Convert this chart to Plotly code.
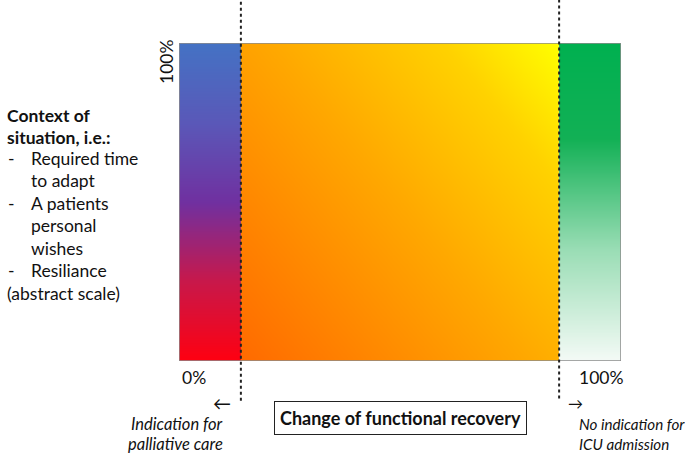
import numpy as np
import plotly.graph_objects as go

# ---- data ----
section_names = ["Indication for palliative care", "Uncertain", "No indication for ICU admission"]
section_edges = [0, 14, 86, 100]          # % of functional recovery
axis_tick_labels = ["0%", "100%"]
y_label = "100%"
context_title = ["Context of", "situation, i.e.:"]
context_items = [["Required time", "to adapt"], ["A patients", "personal", "wishes"], ["Resiliance"]]
context_footer = "(abstract scale)"
x_title = "Change of functional recovery"

FONT = "Lato, Carlito, 'Open Sans', sans-serif"
FS = 17.5

fig = go.Figure()

n = 120
ys = (np.arange(n) + 0.5) * 100 / n   # cell centres so edges are 0 and 100


def centres(a, b, m):
    return a + (np.arange(m) + 0.5) * (b - a) / m


# left bar: red (bottom) -> purple -> blue (top)
x0, x1 = section_edges[0], section_edges[1]
zL = np.tile(ys[:, None], (1, 2))
fig.add_trace(go.Heatmap(
    x=centres(x0, x1, 2), y=ys, z=zL, zsmooth="best", showscale=False, hoverinfo="skip",
    zmin=0, zmax=100,
    colorscale=[[0, "#FF0010"], [0.25, "#C8184A"], [0.5, "#7030A0"], [0.75, "#5A58B8"], [1, "#4472C4"]],
))

# middle: diagonal orange -> yellow
x0, x1 = section_edges[1], section_edges[2]
xs = centres(x0, x1, n)
XX, YY = np.meshgrid((xs - x0) / (x1 - x0), ys / 100)
zM = 0.55 * XX + 0.45 * YY
fig.add_trace(go.Heatmap(
    x=xs, y=ys, z=zM, zsmooth="best", showscale=False, hoverinfo="skip",
    zmin=0, zmax=1,
    colorscale=[[0, "#FF6A00"], [0.5, "#FFA800"], [0.8, "#FFD200"], [1, "#FFFF00"]],
))

# right bar: white (bottom) -> green (top)
x0, x1 = section_edges[2], section_edges[3]
zR = np.tile(ys[:, None], (1, 2))
fig.add_trace(go.Heatmap(
    x=centres(x0, x1, 2), y=ys, z=zR, zsmooth="best", showscale=False, hoverinfo="skip",
    zmin=0, zmax=100,
    colorscale=[[0, "#F4FAF6"], [0.35, "#9ADDB5"], [0.7, "#12B055"], [1, "#00B050"]],
))

shapes = [
    dict(type="rect", xref="x", yref="y", x0=0, x1=100, y0=0, y1=100,
         line=dict(color="#8C8C8C", width=1.5)),
    dict(type="line", xref="x", yref="paper", x0=section_edges[1], x1=section_edges[1],
         y0=-0.125, y1=1.135, line=dict(color="#222", width=2, dash="dot")),
    dict(type="line", xref="x", yref="paper", x0=section_edges[2], x1=section_edges[2],
         y0=-0.118, y1=1.135, line=dict(color="#222", width=2, dash="dot")),
]

ann = []
def px(xp, yp, text, size=FS, **kw):
    d = dict(xref="paper", yref="paper",
             x=(xp - 179) / 442, y=(361 - yp) / 318,
             text=text, showarrow=False,
             font=dict(family=FONT, size=size, color="#111"))
    d.update(kw)
    ann.append(d)

# axis labels
px(166, 62, y_label, textangle=-90, xanchor="center", yanchor="middle")
px(180, 377, axis_tick_labels[0], xanchor="left", yanchor="middle")
px(577, 377, axis_tick_labels[1], xanchor="left", yanchor="middle")

# arrows
px(222, 403, "←", size=18, xanchor="center", yanchor="middle")
px(575, 403, "→", size=15, xanchor="center", yanchor="middle")

# section captions
px(225, 424, "<i>Indication for</i>", size=16.5, xanchor="right", yanchor="middle")
px(225, 444, "<i>palliative care</i>", size=16.5, xanchor="right", yanchor="middle")
px(577, 424, "<i>No indication for</i>", size=15.2, xanchor="left", yanchor="middle")
px(577, 444, "<i>ICU admission</i>", size=15.2, xanchor="left", yanchor="middle")

# x title box
px(400, 418, "<b>" + x_title + "</b>", size=18, xanchor="center", yanchor="middle",
   bordercolor="#222", borderwidth=1, borderpad=5, bgcolor="white")

# left context text
yline = 116
for t in context_title:
    px(5, yline, "<b>" + t + "</b>", xanchor="left", yanchor="middle")
    yline += 21
yline = 158
for item in context_items:
    px(6, yline, "-", xanchor="left", yanchor="middle")
    for t in item:
        px(29, yline, t, xanchor="left", yanchor="middle")
        yline += 22.5
px(5, 293, context_footer, xanchor="left", yanchor="middle")

fig.update_layout(
    width=685, height=455,
    margin=dict(l=179, r=64, t=43, b=94, autoexpand=False),
    paper_bgcolor="white", plot_bgcolor="white",
    xaxis=dict(range=[0, 100], visible=False, fixedrange=True),
    yaxis=dict(range=[0, 100], visible=False, fixedrange=True),
    shapes=shapes, annotations=ann, showlegend=False,
)

fig.write_html("out.html", config={"displayModeBar": False},
               post_script="document.body.style.margin='0';document.body.style.overflow='hidden';")
